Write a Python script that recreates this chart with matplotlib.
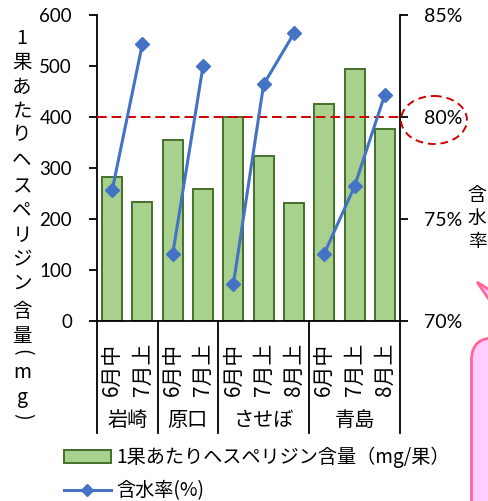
import matplotlib
matplotlib.use('Agg')
import matplotlib.pyplot as plt
import numpy as np
from matplotlib.patches import Ellipse, FancyBboxPatch, Polygon, Patch
from matplotlib.lines import Line2D
from matplotlib.transforms import Affine2D, blended_transform_factory

plt.rcParams['font.family'] = ['Noto Sans CJK JP', 'DejaVu Sans']

# ---- data ----
sites = ['岩崎', '原口', 'させぼ', '青島']
periods = [['6月中', '7月上'],
           ['6月中', '7月上'],
           ['6月中', '7月上', '8月上'],
           ['6月中', '7月上', '8月上']]
hesperidin = [282, 234, 355, 258, 400, 324, 231, 425, 494, 376]      # mg / fruit
moisture = [76.4, 83.6, 73.3, 82.5, 71.8, 81.6, 84.1, 73.3, 76.6, 81.1]  # %
hesp_ticks = [0, 100, 200, 300, 400, 500, 600]
moist_ticks = [70, 75, 80, 85]
threshold_mg = 400
threshold_pct = 80

BAR_FACE = '#A9D18E'
BAR_EDGE = '#44702B'
LINE_COL = '#4472C4'
RED = '#D00000'
NUM_FONT = ['Lato', 'DejaVu Sans']

W, H = 488, 501
fig = plt.figure(figsize=(W / 100, H / 100), dpi=100)
# pixel coordinates with origin at the top-left corner
px = Affine2D().scale(1 / W, -1 / H).translate(0, 1) + fig.transFigure

ax = fig.add_axes([97 / W, 1 - 321 / H, (400 - 97) / W, (321 - 15) / H])
ax2 = ax.twinx()

n = len(hesperidin)
x = np.arange(n)
bars = ax.bar(x, hesperidin, width=0.66, color=BAR_FACE, edgecolor=BAR_EDGE,
              linewidth=1.4, zorder=2)
ax.axhline(threshold_mg, color=RED, lw=1.4, dashes=(5, 2.5), zorder=3)
ax.set_xlim(-0.5, n - 0.5)
ax.set_ylim(hesp_ticks[0], hesp_ticks[-1])
ax.set_yticks(hesp_ticks)

# moisture line, one segment per site
starts = np.cumsum([0] + [len(p) for p in periods])
mvals = np.array(moisture)
for g in range(len(sites)):
    s, e = starts[g], starts[g + 1]
    ax2.plot(x[s:e], mvals[s:e], color=LINE_COL, lw=2.2, marker='D', ms=7.5,
             zorder=4, clip_on=False)
ax2.set_ylim(moist_ticks[0], moist_ticks[-1])
ax2.set_yticks(moist_ticks)
ax2.yaxis.set_major_formatter(lambda v, p: f'{v:.0f}%')

for a in (ax, ax2):
    a.spines['top'].set_visible(False)
    for s in a.spines.values():
        s.set_linewidth(1.3)
ax2.spines['left'].set_visible(False)
ax2.spines['bottom'].set_visible(False)
ax.spines['right'].set_visible(False)

ax.tick_params(axis='y', direction='out', length=5.5, width=1.3, pad=12.5, labelsize=13.5)
ax2.tick_params(axis='y', direction='out', length=5.5, width=1.3, pad=12, labelsize=14)
ax.tick_params(axis='x', length=0, labelbottom=False)
ax.set_xticks([])
for lab in ax.get_yticklabels() + ax2.get_yticklabels():
    lab.set_family(NUM_FONT)

# multi-level category axis
trans = blended_transform_factory(ax.transData, ax.transAxes)
for b in starts:
    ax.plot([b - 0.5, b - 0.5], [0, -0.366], transform=trans, color='black',
            lw=1.3, clip_on=False)
labels = [p for grp in periods for p in grp]
for xi, lab in zip(x, labels):
    ax.text(xi, -0.157, lab, transform=trans, rotation=90, ha='center',
            va='center', fontsize=15)
for g, site in enumerate(sites):
    ax.text((starts[g] + starts[g + 1] - 1) / 2, -0.324, site, transform=trans,
            ha='center', va='center', fontsize=14.5)

# vertical axis titles
left_title = [('1', 0, 38), ('果', 0, 62), ('あ', 0, 87), ('た', 0, 112),
              ('り', 0, 135), ('ヘ', 0, 160), ('ス', 0, 187), ('ペ', 0, 210),
              ('リ', 0, 235), ('ジ', 0, 260), ('ン', 0, 283), ('含', 0, 312),
              ('量', 0, 337), ('(', -90, 352), ('m', 0, 373), ('g', 0, 398),
              (')', -90, 416)]
for ch, rot, yy in left_title:
    fig.text(22, yy, ch, transform=px, ha='center', va='center', rotation=rot,
             fontsize=14)
for ch, yy in zip('含水率', [195, 218, 241]):
    fig.text(477, yy, ch, transform=px, ha='center', va='center', fontsize=13.5)

# legend
handles = [Patch(facecolor=BAR_FACE, edgecolor=BAR_EDGE, lw=1.4),
           Line2D([], [], color=LINE_COL, lw=2.2, marker='D', ms=6.5)]
fig.legend(handles, ['1果あたりヘスペリジン含量（mg/果）', '含水率(%)'],
           loc='upper left', bbox_to_anchor=(64 / W, 1 - 447 / H),
           frameon=False, fontsize=13.8, handlelength=2.45, handleheight=0.65,
           handletextpad=0.3, labelspacing=0.62, borderpad=0, borderaxespad=0)

# highlight around the 80% tick
fig.add_artist(Ellipse((434, 120), 66, 48, transform=px, fill=False,
                       edgecolor=RED, lw=1.4, linestyle=(0, (4, 2.5))))

# speech-bubble callout at the lower right
fig.add_artist(Polygon([(477, 282), (540, 322), (524, 350)], closed=True,
                       transform=px, facecolor='#FFCCFF', edgecolor='#FF6699',
                       lw=2))
fig.add_artist(FancyBboxPatch((471.5, 338), 120, 220,
                              boxstyle='round,pad=0,rounding_size=22',
                              transform=px, facecolor='#FFCCFF',
                              edgecolor='#FF6699', lw=2))

fig.savefig('out.png', dpi=100)
